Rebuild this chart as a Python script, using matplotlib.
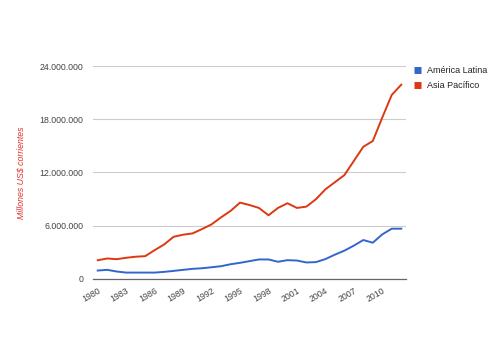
import matplotlib
matplotlib.use("Agg")
import matplotlib.pyplot as plt
from matplotlib.ticker import FuncFormatter

plt.rcParams["font.family"] = ["Liberation Sans", "DejaVu Sans"]

years = list(range(1980, 2013))

# millions of current US$
america_latina = [
    0.94, 1.02, 0.83, 0.71, 0.71, 0.71, 0.71, 0.79, 0.90, 1.02,
    1.13, 1.20, 1.31, 1.43, 1.65, 1.81, 2.00, 2.19, 2.19, 1.93,
    2.11, 2.07, 1.85, 1.89, 2.23, 2.73, 3.18, 3.75, 4.38, 4.08,
    5.02, 5.66, 5.66,
]
asia_pacifico = [
    2.10, 2.30, 2.22, 2.38, 2.50, 2.56, 3.24, 3.88, 4.75, 4.98,
    5.13, 5.62, 6.15, 6.94, 7.66, 8.60, 8.33, 8.00, 7.17, 8.00,
    8.53, 8.00, 8.15, 8.98, 10.10, 10.90, 11.70, 13.30, 14.90, 15.55,
    18.20, 20.75, 21.90,
]

y_ticks = [0, 6, 12, 18, 24]
x_ticks = list(range(1980, 2011, 3))

fig = plt.figure(figsize=(5, 3.46), dpi=100)
ax = fig.add_axes([0.186, 0.194, 0.626, 0.615])

ax.plot(years, america_latina, color="#3366cc", lw=1.4, label="América Latina")
ax.plot(years, asia_pacifico, color="#dc3912", lw=1.4, label="Asia Pacífico")

ax.set_xlim(1979.5, 2012.5)
ax.set_ylim(0, 24)
ax.set_yticks(y_ticks)
ax.set_xticks(x_ticks)


def millions(v, pos):
    if v == 0:
        return "0"
    return f"{int(v * 1000000):,}".replace(",", ".")


ax.yaxis.set_major_formatter(FuncFormatter(millions))
ax.grid(axis="y", color="#cccccc", lw=0.8)
ax.set_axisbelow(True)

for side in ["top", "right", "left"]:
    ax.spines[side].set_visible(False)
ax.spines["bottom"].set_color("#666666")
ax.spines["bottom"].set_linewidth(0.9)

ax.tick_params(axis="both", length=0, labelsize=6.3, labelcolor="#444444")
ax.tick_params(axis="y", pad=7)
ax.tick_params(axis="x", pad=5)
for lab in ax.get_xticklabels():
    lab.set_rotation(30)
    lab.set_ha("right")
    lab.set_rotation_mode("anchor")

ax.set_ylabel("Millones US$ corrientes", color="#e0322a", fontsize=6.3,
              style="italic", labelpad=10)

ax.legend(loc="upper left", bbox_to_anchor=(1.005, 1.03), frameon=False,
          fontsize=6.5, handlelength=0.75, handleheight=0.75,
          handletextpad=0.7, labelspacing=0.65, borderaxespad=0.3,
          labelcolor="#222222")
# square colour swatches in the legend
leg = ax.get_legend()
for h in leg.legend_handles:
    h.set_linewidth(5)
    h.set_solid_capstyle("butt")

fig.savefig("out.png", dpi=100)
